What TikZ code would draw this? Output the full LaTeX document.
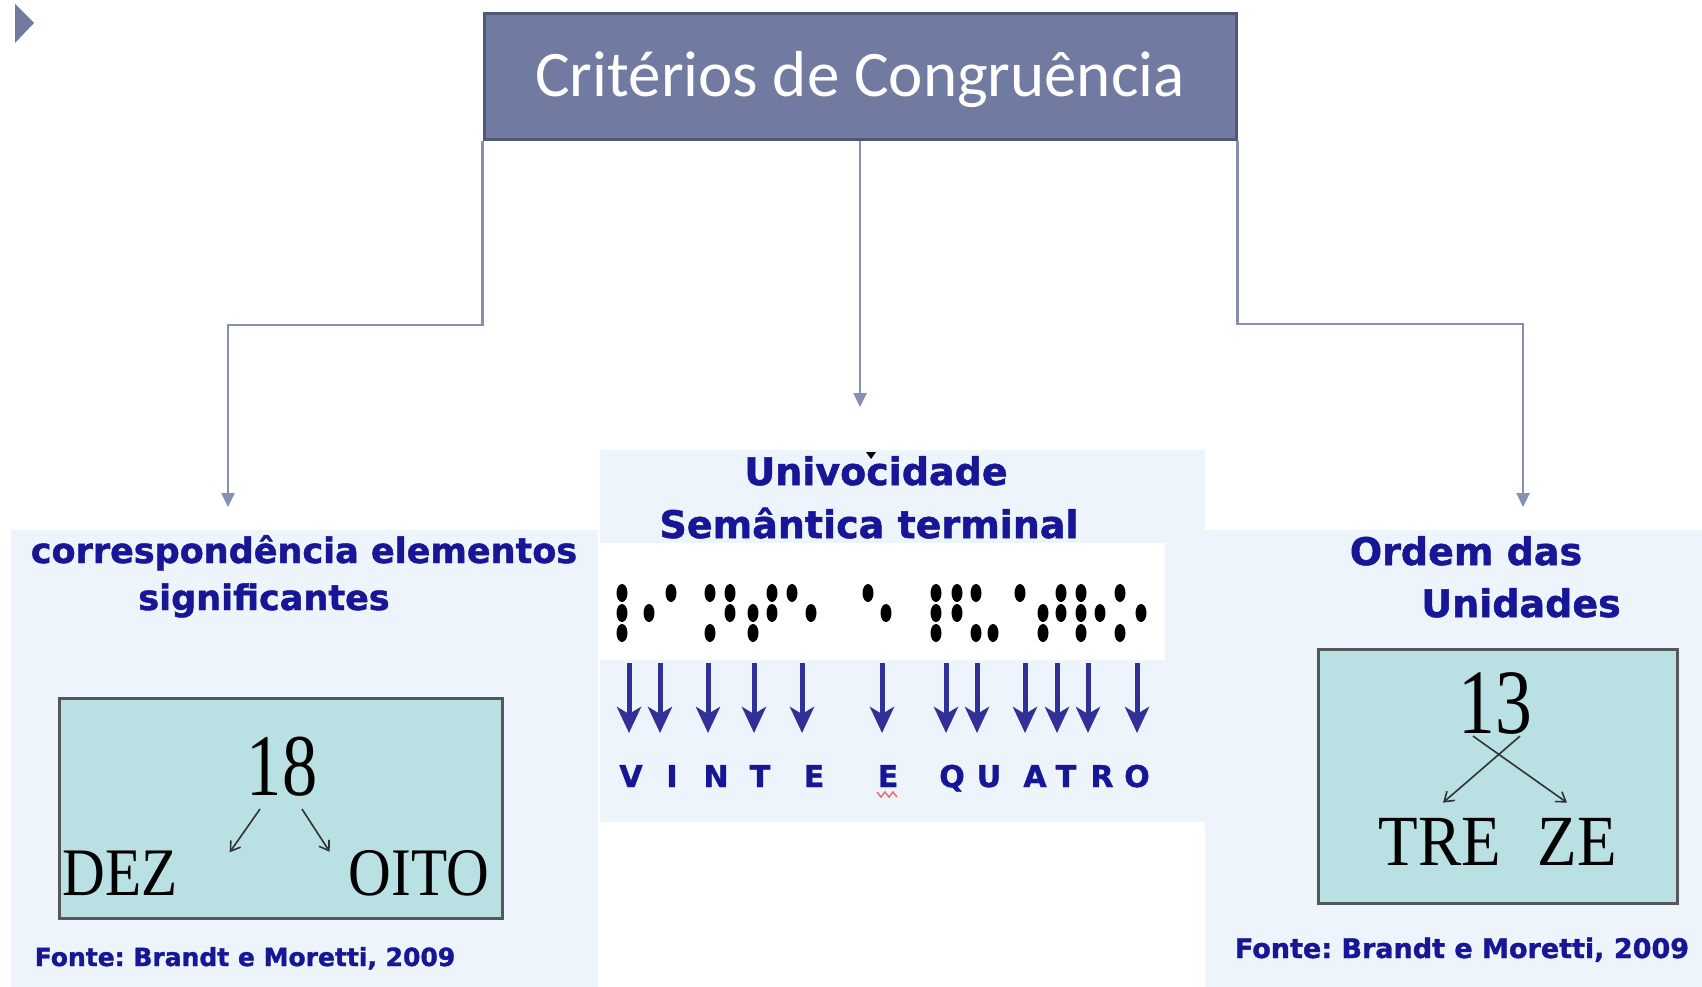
\documentclass[tikz,border=0pt]{standalone}
\usepackage{fontspec}
\usepackage{tikz}
\usetikzlibrary{positioning,arrows.meta}
\newfontfamily\gillfont{Carlito}
\newfontfamily\verdfont{DejaVu Sans}[BoldFeatures={FakeBold=1.3}]
\newfontfamily\serfont{Liberation Serif}
\newcommand{\narrow}[2]{\scalebox{#1}[1]{#2}}
\frenchspacing
\definecolor{slate}{RGB}{113,122,160}
\definecolor{slatedark}{RGB}{80,88,120}
\definecolor{connline}{RGB}{135,143,178}
\definecolor{textnavy}{RGB}{22,22,150}
\definecolor{panelbg}{RGB}{237,244,251}
\definecolor{boxfill}{RGB}{185,224,226}
\definecolor{boxline}{RGB}{85,88,90}
\definecolor{arrowblue}{RGB}{48,48,150}
\definecolor{squigred}{RGB}{240,110,110}

\begin{document}
\begin{tikzpicture}
		[x=1pt, y=-1pt,
		titlebox/.style={draw=slatedark, line width=3pt, fill=slate, text=white, minimum width=752pt, minimum height=126pt, text height=44pt, text depth=4pt, font=\gillfont\fontsize{65}{70}\selectfont},
		head/.style={font=\verdfont\bfseries\fontsize{#1}{#1}\selectfont, text=textnavy, inner sep=0pt, anchor=base},
		head/.default=38,
		letter/.style={font=\verdfont\bfseries\fontsize{30}{30}\selectfont, text=textnavy, inner sep=0pt, anchor=base},
		source/.style={font=\verdfont\bfseries\fontsize{#1}{#1}\selectfont, text=textnavy, inner sep=0pt, anchor=base},
		serif/.style={font=\serfont\fontsize{#1}{#1}\selectfont, inner sep=0pt, anchor=base},
		numbox/.style={draw=boxline, line width=3pt, fill=boxfill},
		conn/.style={draw=connline, line width=2.5pt, -{Triangle[length=14pt,width=13pt]}},
		bigarrow/.style={draw=arrowblue, line width=5pt, -{Stealth[length=26pt,width=24pt,inset=7pt]}},
		thinarrow/.style={draw={rgb,255:red,50;green,50;blue,50}, line width=1.6pt, -{Straight Barb[length=9pt,width=12pt]}}]
		\useasboundingbox (0,0) rectangle (1702,987);
		\fill[white] (0,0) rectangle (1702,987);
		\fill[panelbg] (11,530) rectangle (598,987);
		\fill[panelbg] (600,450) rectangle (1205,822);
		\fill[panelbg] (1205,530) rectangle (1702,987);
		\fill[white] (600,543) rectangle (1165,660);
		\fill[slate] (15,4) -- (34,23) -- (15,43) -- cycle;
		
		\node[titlebox] (crit) at (860,77) {Critérios de Congruência};
		\coordinate (tipL) at (228,507);
		\coordinate (tipM) at (860,407);
		\coordinate (tipR) at (1523,507);
		
		\node[head=35] (corr) at (304,563) {correspondência elementos};
		\node[head=35, below=47pt of corr.base, anchor=base, xshift=-40pt] (sig) {significantes};
		\node[head] (uni) at (876,485) {Univocidade};
		\node[head, below=53pt of uni.base, anchor=base, xshift=-7pt] (sem) {Semântica terminal};
		\node[head] (ordem) at (1466,565) {Ordem das};
		\node[head, below=52pt of ordem.base, anchor=base, xshift=55pt] (unid) {Unidades};
		
		\node[numbox, minimum width=443pt, minimum height=220pt] (box18) at (280.5,808) {};
		\node[serif=88] (n18) at (282,795) {\narrow{.8}{18}};
		\node[serif=68] (dez) at (120,895) {\narrow{.87}{DEZ}};
		\node[serif=68] (oito) at (419,895) {\narrow{.87}{OITO}};
		\node[source=25] (srcL) at (245,966) {Fonte: Brandt e Moretti, 2009};
		
		\node[numbox, minimum width=359pt, minimum height=254pt] (box13) at (1497.5,776) {};
		\node[serif=92] (n13) at (1495,733) {\narrow{.8}{13}};
		\node[serif=72] (tre) at (1440,865) {\narrow{.9}{TRE}};
		\node[serif=72] (ze) at (1577,865) {\narrow{.9}{ZE}};
		\node[source=27] (srcR) at (1462,958) {Fonte: Brandt e Moretti, 2009};
		
		\foreach \x/\r in {622/1,622/2,622/3,649/2,671/1,710/1,710/3,730/1,730/2,753/2,753/3,772/1,772/2,792/1,811/2,868/1,886/2,936/1,936/2,936/3,957/1,957/2,976/1,976/3,993/3,1020/1,1043/2,1043/3,1061/1,1061/2,1081/1,1081/2,1081/3,1100/2,1120/1,1120/3,1141/2}
			\fill (\x,{573+20*\r}) ellipse [x radius=5.5pt, y radius=9pt];
		\foreach \x in {629,660,708,754,802,882,946,977,1025,1057,1088,1137}
			\draw[bigarrow] (\x,663) -- (\x,733);
		\foreach \x/\l [count=\i] in {631/V,672/I,716/N,760/T,814/E,888/E,952/Q,989/U,1035/A,1066/T,1102/R,1137/O}
			\node[letter] (l\i) at (\x,787) {\l};
		\draw[squigred, line width=1.5pt] ([shift={(-11,5)}]l6.base) -- ++(4,5) -- ++(4,-5) -- ++(4,5) -- ++(4,-5) -- ++(4,5);
		\fill (866,452) -- (876,452) -- (871,459) -- cycle;
		
		\draw[conn] (crit.south west) |- (tipL |- 0,325) -- (tipL);
		\draw[conn] (crit.south) -- (tipM);
		\draw[conn] (crit.south east) |- (tipR |- 0,324) -- (tipR);
		\draw[thinarrow] ([shift={(-22,13)}]n18.south) -- ([shift={(52,2)}]dez.north east);
		\draw[thinarrow] ([shift={(20,13)}]n18.south) -- ([shift={(-19,2)}]oito.north west);
		\draw[thinarrow] ([shift={(25,2)}]n13.south) -- ([shift={(3,-15)}]tre.north);
		\draw[thinarrow] ([shift={(-22,2)}]n13.south) -- ([shift={(-10,-15)}]ze.north);
\end{tikzpicture}
\end{document}
